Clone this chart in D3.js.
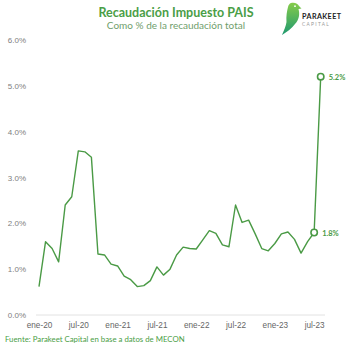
<!DOCTYPE html>
<html>
<head>
<meta charset="utf-8">
<script src="https://cdn.jsdelivr.net/npm/d3@7"></script>
<style>
  html, body { margin: 0; padding: 0; background: #fff; }
  svg { display: block; font-family: Lato, "Open Sans", sans-serif; }
</style>
</head>
<body>
<svg id="chart" width="350" height="350"></svg>
<script>
// Monthly share of the PAIS tax in total revenue (%), Jan-2020 .. Aug-2023
const months = [
  "ene-20","feb-20","mar-20","abr-20","may-20","jun-20","jul-20","ago-20","sep-20","oct-20","nov-20","dic-20",
  "ene-21","feb-21","mar-21","abr-21","may-21","jun-21","jul-21","ago-21","sep-21","oct-21","nov-21","dic-21",
  "ene-22","feb-22","mar-22","abr-22","may-22","jun-22","jul-22","ago-22","sep-22","oct-22","nov-22","dic-22",
  "ene-23","feb-23","mar-23","abr-23","may-23","jun-23","jul-23","ago-23"
];
const share = [
  0.62, 1.60, 1.45, 1.16, 2.40, 2.58, 3.58, 3.56, 3.44, 1.33, 1.31, 1.11,
  1.07, 0.85, 0.77, 0.62, 0.64, 0.75, 1.05, 0.87, 1.00, 1.31, 1.48, 1.45,
  1.44, 1.64, 1.84, 1.78, 1.53, 1.49, 2.40, 2.02, 2.07, 1.77, 1.45, 1.40,
  1.56, 1.77, 1.81, 1.65, 1.35, 1.60, 1.8, 5.2
];
const yTicks = [0, 1, 2, 3, 4, 5, 6];
const xTickLabels = ["ene-20","jul-20","ene-21","jul-21","ene-22","jul-22","ene-23","jul-23"];
const labelled = ["jul-23", "ago-23"];

const green = "#4a9a45";
const svg = d3.select("#chart");

const x = d3.scalePoint().domain(months).range([39, 320.7]);
const y = d3.scaleLinear().domain([0, 6]).range([315, 40]);

// baseline
svg.append("line")
  .attr("x1", 36).attr("x2", 325)
  .attr("y1", y(0)).attr("y2", y(0))
  .attr("stroke", "#e2e2e2").attr("stroke-width", 1);

// y axis labels
const yAxis = d3.axisLeft(y).tickValues(yTicks).tickSize(0).tickFormat(d => d.toFixed(1) + "%");
svg.append("g").attr("transform", "translate(29,0)").call(yAxis)
  .call(g => g.select(".domain").remove())
  .call(g => g.selectAll("text").attr("fill", "#808080").attr("font-size", 8).attr("dx", 0));

// x axis labels
const xAxis = d3.axisBottom(x).tickValues(xTickLabels).tickSize(0);
svg.append("g").attr("transform", `translate(0,${y(0) + 4})`).call(xAxis)
  .call(g => g.select(".domain").remove())
  .call(g => g.selectAll("text").attr("fill", "#666").attr("font-size", 8.2));

// series line
const line = d3.line().x((d, i) => x(months[i])).y(d => y(d));
svg.append("path").datum(share)
  .attr("d", line)
  .attr("fill", "none")
  .attr("stroke", green)
  .attr("stroke-width", 1.4)
  .attr("stroke-linejoin", "round");

// highlighted points with value labels
const pts = labelled.map(m => ({ m, v: share[months.indexOf(m)] }));
svg.selectAll("circle.mark").data(pts).enter().append("circle")
  .attr("class", "mark")
  .attr("cx", d => x(d.m)).attr("cy", d => y(d.v)).attr("r", 3.2)
  .attr("fill", "#fff").attr("stroke", green).attr("stroke-width", 1.6);
svg.selectAll("text.val").data(pts).enter().append("text")
  .attr("class", "val")
  .attr("x", d => x(d.m) + 8).attr("y", d => y(d.v) + 3)
  .attr("fill", green).attr("font-size", 7.5).attr("font-weight", "bold")
  .text(d => d.v.toFixed(1) + "%");

// titles
svg.append("text").attr("x", 176).attr("y", 17).attr("text-anchor", "middle")
  .attr("fill", "#4a9e46").attr("font-size", 12.5).attr("font-weight", "bold")
  .text("Recaudación Impuesto PAIS");
svg.append("text").attr("x", 176).attr("y", 29).attr("text-anchor", "middle")
  .attr("fill", "#6f9e6c").attr("font-size", 10)
  .text("Como % de la recaudación total");

// source
svg.append("text").attr("x", 5).attr("y", 342)
  .attr("fill", "#4a9e46").attr("font-size", 7.8)
  .text("Fuente: Parakeet Capital en base a datos de MECON");

// logo: stylised parakeet and wordmark
const logo = svg.append("g").attr("transform", "translate(279,2)");
const grad = svg.append("defs").append("linearGradient").attr("id", "bird")
  .attr("x1", 0).attr("y1", 0).attr("x2", 0).attr("y2", 1);
grad.append("stop").attr("offset", 0).attr("stop-color", "#86cc4a");
grad.append("stop").attr("offset", 1).attr("stop-color", "#1e9970");
logo.append("path")
  .attr("d", "M12,1 C16,0 19,2 20,4 L22.5,6.5 L19.5,7 C21,12 20,18 16,22 C13,26 8,30 3,33 C5,28 7,24 7.5,20 C7,14 8,9 9,5 C9.5,3 10.5,1.5 12,1 Z")
  .attr("fill", "url(#bird)");
logo.append("circle").attr("cx", 16).attr("cy", 4.2).attr("r", 0.9).attr("fill", "#fff");
logo.append("text").attr("x", 23).attr("y", 17)
  .attr("fill", "#222").attr("font-size", 7.2).attr("font-weight", "bold").attr("letter-spacing", 0.4)
  .text("PARAKEET");
logo.append("text").attr("x", 23).attr("y", 23.5)
  .attr("fill", "#999").attr("font-size", 4.8).attr("letter-spacing", 1.3)
  .text("CAPITAL");
</script>
</body>
</html>
